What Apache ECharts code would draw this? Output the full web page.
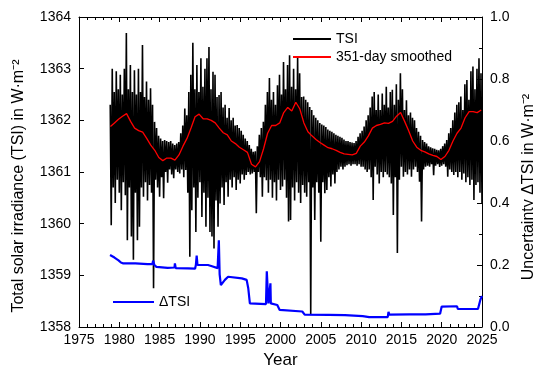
<!DOCTYPE html>
<html>
<head>
<meta charset="utf-8">
<script src="https://cdn.jsdelivr.net/npm/echarts@6/dist/echarts.min.js"></script>
<style>
  html, body { margin: 0; padding: 0; background: #fff; }
  #chart { width: 533px; height: 367px; }
</style>
</head>
<body>
<div id="chart"></div>
<script>
// Daily TSI summarised as an upper and lower envelope per quarter year (W·m⁻²)
const tsiStart = 1978.875;
const tsiStep = 0.25;
const tsiTop = [
  1362.30,
  1363.00, 1362.55, 1362.95, 1362.60, // 1979
  1362.88, 1362.50, 1363.00, 1363.69, // 1980
  1362.60, 1363.07, 1362.55, 1362.97, // 1981
  1362.50, 1363.00, 1362.55, 1363.46, // 1982
  1362.45, 1362.75, 1362.40, 1362.62, // 1983
  1362.30, 1361.97, 1361.85, 1361.70, // 1984
  1361.65, 1361.60, 1361.62, 1361.60, // 1985
  1361.58, 1361.60, 1361.55, 1361.52, // 1986
  1361.55, 1361.58, 1361.75, 1361.90, // 1987
  1362.23, 1362.10, 1362.55, 1362.88, // 1988
  1363.50, 1362.60, 1363.07, 1362.55, // 1989
  1363.20, 1362.65, 1363.00, 1363.20, // 1990
  1363.42, 1362.60, 1362.94, 1362.88, // 1991
  1362.45, 1362.49, 1362.55, 1362.25, // 1992
  1362.30, 1362.05, 1362.24, 1362.00, // 1993
  1362.05, 1361.90, 1361.91, 1361.85, // 1994
  1361.80, 1361.72, 1361.65, 1361.60, // 1995
  1361.52, 1361.45, 1361.39, 1361.40, // 1996
  1361.50, 1361.72, 1361.85, 1361.97, // 1997
  1362.30, 1362.55, 1362.82, 1362.40, // 1998
  1362.55, 1362.30, 1362.68, 1362.88, // 1999
  1362.50, 1363.13, 1362.60, 1363.07, // 2000
  1363.26, 1362.65, 1363.00, 1362.60, // 2001
  1363.23, 1362.91, 1362.45, 1362.46, // 2002
  1362.40, 1362.35, 1362.26, 1362.20, // 2003
  1362.10, 1362.05, 1362.00, 1361.95, // 2004
  1361.92, 1361.90, 1361.87, 1361.82, // 2005
  1361.80, 1361.78, 1361.75, 1361.72, // 2006
  1361.70, 1361.68, 1361.66, 1361.63, // 2007
  1361.60, 1361.60, 1361.58, 1361.57, // 2008
  1361.56, 1361.60, 1361.68, 1361.75, // 2009
  1361.80, 1361.88, 1362.00, 1362.10, // 2010
  1362.25, 1362.46, 1362.55, 1362.20, // 2011
  1362.50, 1362.20, 1362.52, 1362.30, // 2012
  1362.65, 1362.25, 1362.55, 1362.59, // 2013
  1362.30, 1362.70, 1362.40, 1362.91, // 2014
  1362.60, 1362.20, 1362.39, 1362.10, // 2015
  1362.15, 1362.05, 1362.00, 1361.85, // 2016
  1361.78, 1361.70, 1361.62, 1361.58, // 2017
  1361.55, 1361.50, 1361.48, 1361.46, // 2018
  1361.45, 1361.43, 1361.42, 1361.45, // 2019
  1361.50, 1361.55, 1361.62, 1361.75, // 2020
  1361.85, 1362.00, 1362.15, 1362.30, // 2021
  1362.35, 1362.46, 1362.20, 1362.70, // 2022
  1362.78, 1362.40, 1362.95, 1363.04, // 2023
  1362.60, 1363.00, 1363.20, 1362.91  // 2024
];
const tsiBottom = [
  1359.97,
  1360.70, 1360.40, 1360.85, 1360.60, // 1979
  1360.26, 1360.80, 1360.55, 1359.68, // 1980
  1360.70, 1359.75, 1359.30, 1360.60, // 1981
  1359.68, 1359.94, 1360.70, 1360.52, // 1982
  1360.80, 1360.45, 1360.75, 1360.60, // 1983
  1358.75, 1360.85, 1360.70, 1360.52, // 1984
  1360.90, 1360.49, 1361.00, 1360.79, // 1985
  1361.05, 1360.95, 1360.88, 1361.05, // 1986
  1361.00, 1360.97, 1361.05, 1360.90, // 1987
  1361.04, 1360.60, 1359.36, 1360.26, // 1988
  1360.70, 1359.84, 1360.50, 1360.80, // 1989
  1360.13, 1360.60, 1359.94, 1360.50, // 1990
  1359.84, 1359.75, 1359.52, 1360.45, // 1991
  1359.94, 1360.39, 1360.70, 1360.36, // 1992
  1360.80, 1360.52, 1360.85, 1360.70, // 1993
  1360.90, 1360.65, 1360.85, 1360.78, // 1994
  1360.95, 1360.85, 1360.94, 1361.00, // 1995
  1360.95, 1360.97, 1361.00, 1360.20, // 1996
  1361.00, 1360.90, 1360.52, 1360.90, // 1997
  1360.84, 1360.60, 1360.85, 1360.50, // 1998
  1360.80, 1360.45, 1360.85, 1360.65, // 1999
  1360.72, 1360.85, 1360.50, 1360.04, // 2000
  1360.07, 1360.70, 1360.45, 1360.80, // 2001
  1360.60, 1360.40, 1360.75, 1360.60, // 2002
  1360.52, 1360.80, 1358.23, 1360.70, // 2003
  1360.07, 1360.80, 1360.60, 1359.65, // 2004
  1360.80, 1360.59, 1360.65, 1360.90, // 2005
  1360.72, 1360.95, 1360.78, 1361.00, // 2006
  1361.05, 1361.10, 1361.05, 1361.10, // 2007
  1361.13, 1361.15, 1361.12, 1361.15, // 2008
  1361.15, 1361.12, 1361.15, 1361.10, // 2009
  1361.10, 1361.05, 1361.00, 1361.05, // 2010
  1360.90, 1360.46, 1361.10, 1360.95, // 2011
  1360.78, 1361.00, 1360.90, 1361.00, // 2012
  1360.95, 1360.90, 1360.78, 1360.17, // 2013
  1360.90, 1359.43, 1360.85, 1361.10, // 2014
  1360.91, 1361.00, 1360.95, 1361.05, // 2015
  1360.91, 1361.05, 1361.10, 1361.00, // 2016
  1360.81, 1360.04, 1361.05, 1361.10, // 2017
  1361.12, 1361.10, 1361.15, 1360.94, // 2018
  1361.12, 1361.15, 1361.10, 1361.12, // 2019
  1361.15, 1361.10, 1360.91, 1361.05, // 2020
  1361.00, 1360.94, 1361.00, 1360.90, // 2021
  1361.00, 1360.85, 1360.97, 1360.80, // 2022
  1360.90, 1360.75, 1360.85, 1360.46, // 2023
  1360.75, 1360.80, 1360.60, 1360.40  // 2024
];

// 351-day smoothed TSI, half-year steps
const smoothStart = 1978.9;
const smoothStep = 0.5;
const tsiSmoothed = [
  1361.88, 1361.95, 1362.02, 1362.08, 1362.13, 1361.98, 1361.85, 1361.80,
  1361.77, 1361.65, 1361.52, 1361.42, 1361.28, 1361.22, 1361.27, 1361.27,
  1361.23, 1361.33, 1361.50, 1361.65, 1361.85, 1362.07, 1362.12, 1362.03,
  1362.03, 1362.00, 1361.95, 1361.85, 1361.76, 1361.72, 1361.60, 1361.55,
  1361.48, 1361.43, 1361.38, 1361.15, 1361.10, 1361.20, 1361.45, 1361.75,
  1361.90, 1361.90, 1361.95, 1362.15, 1362.25, 1362.18, 1362.35, 1362.22,
  1361.95, 1361.78, 1361.70, 1361.63, 1361.57, 1361.52, 1361.47, 1361.45,
  1361.42, 1361.38, 1361.35, 1361.34, 1361.33, 1361.36, 1361.50, 1361.58,
  1361.70, 1361.85, 1361.90, 1361.92, 1361.95, 1361.94, 1361.98, 1362.08,
  1362.15, 1361.98, 1361.80, 1361.60, 1361.48, 1361.42, 1361.39, 1361.35,
  1361.32, 1361.30, 1361.24, 1361.30, 1361.42, 1361.60, 1361.75, 1361.85,
  1362.05, 1362.17, 1362.17, 1362.15, 1362.20
];

// Uncertainty ΔTSI in W·m⁻², [year, value]
const deltaTsi = [
  [1978.85, 0.232], [1979.4, 0.224], [1979.9, 0.215], [1980.2, 0.208], [1980.5, 0.205],
  [1982.0, 0.205], [1983.5, 0.203], [1984.1, 0.203], [1984.2, 0.214], [1984.35, 0.200],
  [1984.6, 0.194], [1986.0, 0.191], [1986.85, 0.192], [1986.9, 0.205], [1987.0, 0.190],
  [1988.5, 0.189], [1989.4, 0.188], [1989.5, 0.200], [1989.6, 0.230], [1989.7, 0.200],
  [1991.0, 0.200], [1991.5, 0.196], [1992.2, 0.190], [1992.35, 0.280], [1992.45, 0.170],
  [1992.6, 0.135], [1992.8, 0.135], [1993.1, 0.152], [1993.5, 0.162], [1995.2, 0.157],
  [1995.8, 0.152], [1996.0, 0.125], [1996.2, 0.076], [1998.2, 0.074], [1998.3, 0.180],
  [1998.4, 0.185], [1998.5, 0.076], [1998.7, 0.078], [1998.75, 0.141], [1998.8, 0.076],
  [1999.6, 0.071], [1999.9, 0.055], [2002.7, 0.050], [2003.0, 0.040], [2006.0, 0.039],
  [2008.0, 0.038], [2010.2, 0.035], [2011.0, 0.032], [2013.3, 0.032], [2013.4, 0.049],
  [2013.5, 0.040], [2013.7, 0.042], [2016.0, 0.041], [2018.0, 0.041], [2019.8, 0.043],
  [2020.0, 0.066], [2021.9, 0.067], [2022.0, 0.058], [2024.5, 0.058], [2024.8, 0.088],
  [2025.0, 0.100]
];

const yearTicks = { min: 1975, max: 2025, interval: 5 };
const tsiRange = { min: 1358, max: 1364, interval: 1 };
const deltaRange = { min: 0, max: 1, interval: 0.2 };

// Zig-zag between the envelopes so the daily scatter reads as a dense band
const tsiLine = [];
tsiTop.forEach((top, i) => {
  const t = tsiStart + i * tsiStep;
  tsiLine.push([t, top]);
  tsiLine.push([t + tsiStep / 2, tsiBottom[i]]);
});
const smoothLine = tsiSmoothed.map((v, i) => [smoothStart + i * smoothStep, v]);

const font = 'Liberation Sans, Arial, sans-serif';
const axisCommon = {
  axisLine: { show: true, lineStyle: { color: '#000', width: 1 } },
  axisTick: { show: true, inside: true, length: 5, lineStyle: { color: '#000' } },
  minorTick: { show: true, splitNumber: 5, length: 3, lineStyle: { color: '#000' } },
  splitLine: { show: false },
  axisLabel: { color: '#000', fontSize: 14, fontFamily: font }
};

const chart = echarts.init(document.getElementById('chart'), null, { renderer: 'canvas' });
chart.setOption({
  animation: false,
  backgroundColor: '#fff',
  grid: { left: 79, right: 51, top: 17, bottom: 40, containLabel: false, outerBoundsMode: 'none' },
  legend: [
    {
      data: ['TSI', '351-day smoothed'],
      orient: 'vertical', left: 287, top: 27,
      itemWidth: 38, itemHeight: 14, itemGap: 4,
      itemStyle: { opacity: 0 },
      textStyle: { color: '#000', fontSize: 14, fontFamily: font }
    },
    {
      data: ['ΔTSI'],
      orient: 'vertical', left: 107, top: 290,
      itemWidth: 41, itemHeight: 14,
      itemStyle: { opacity: 0 },
      textStyle: { color: '#000', fontSize: 14, fontFamily: font }
    }
  ],
  xAxis: [
    Object.assign({}, axisCommon, {
      type: 'value', position: 'bottom',
      min: yearTicks.min, max: yearTicks.max, interval: yearTicks.interval,
      name: 'Year', nameLocation: 'middle', nameGap: 24,
      nameTextStyle: { color: '#000', fontSize: 17, fontFamily: font },
      axisLabel: { color: '#000', fontSize: 14, fontFamily: font, margin: 6,
        formatter: v => String(v) }
    }),
    Object.assign({}, axisCommon, {
      type: 'value', position: 'top',
      min: yearTicks.min, max: yearTicks.max, interval: yearTicks.interval,
      axisLabel: { show: false }
    })
  ],
  yAxis: [
    Object.assign({}, axisCommon, {
      type: 'value', position: 'left',
      min: tsiRange.min, max: tsiRange.max, interval: tsiRange.interval,
      minorTick: { show: false },
      name: 'Total solar irradiance (TSI) in W·m⁻²', nameLocation: 'middle', nameGap: 52, nameRotate: 90,
      nameTextStyle: { color: '#000', fontSize: 16, fontFamily: font, padding: [0, 28, 0, 0] },
      axisLabel: { color: '#000', fontSize: 14, fontFamily: font, margin: 8,
        formatter: v => String(v) }
    }),
    Object.assign({}, axisCommon, {
      type: 'value', position: 'right',
      min: deltaRange.min, max: deltaRange.max, interval: deltaRange.interval,
      minorTick: { show: true, splitNumber: 2, length: 3, lineStyle: { color: '#000' } },
      name: 'Uncertainty ΔTSI in W·m⁻²', nameLocation: 'middle', nameGap: 36, nameRotate: 90,
      nameTextStyle: { color: '#000', fontSize: 16, fontFamily: font, padding: [0, 30, 0, 0] },
      axisLabel: { color: '#000', fontSize: 14, fontFamily: font, margin: 8,
        formatter: v => v.toFixed(1) }
    })
  ],
  series: [
    {
      name: 'TSI', type: 'line', xAxisIndex: 0, yAxisIndex: 0,
      data: tsiLine, symbol: 'none', sampling: null,
      lineStyle: { color: '#000', width: 1.6 }, itemStyle: { color: '#000' }
    },
    {
      name: '351-day smoothed', type: 'line', xAxisIndex: 0, yAxisIndex: 0,
      data: smoothLine, symbol: 'none',
      lineStyle: { color: '#ff0000', width: 1.3 }, itemStyle: { color: '#ff0000' }
    },
    {
      name: 'ΔTSI', type: 'line', xAxisIndex: 0, yAxisIndex: 1,
      data: deltaTsi, symbol: 'none',
      lineStyle: { color: '#0000ff', width: 2.2 }, itemStyle: { color: '#0000ff' }
    }
  ]
});
</script>
</body>
</html>
